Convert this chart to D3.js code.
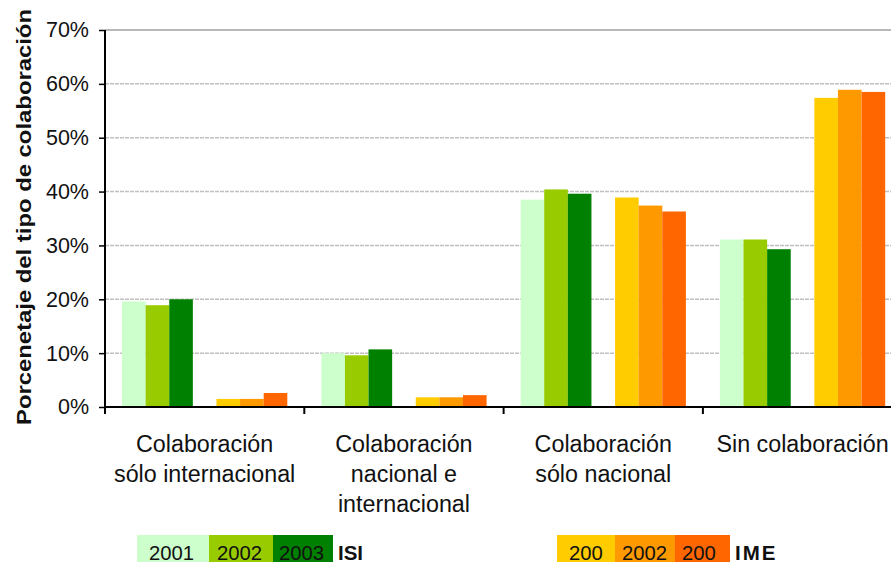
<!DOCTYPE html>
<html>
  <head>
    <meta charset="utf-8">
    <title>Tipo de colaboración ISI / IME</title>
    <script src="https://d3js.org/d3.v7.min.js" charset="utf-8"></script>
    <style>
      body{ margin:0; background:#fff; }
      svg{ display:block; font-family:'Liberation Sans', Arial, sans-serif; }
    </style>
  </head>
  <body>
    <svg></svg>
    <script>

      //begin: data
      var categories = [
        ["Colaboración", "sólo internacional"],
        ["Colaboración", "nacional e", "internacional"],
        ["Colaboración", "sólo nacional"],
        ["Sin colaboración"]
      ];
      var seriesKeys = ["ISI 2001", "ISI 2002", "ISI 2003", "", "IME 2001", "IME 2002", "IME 2003"];
      var isi2001 = [0.196, 0.100, 0.385, 0.311];
      var isi2002 = [0.189, 0.096, 0.404, 0.311];
      var isi2003 = [0.200, 0.107, 0.396, 0.293];
      var ime2001 = [0.015, 0.018, 0.389, 0.574];
      var ime2002 = [0.015, 0.018, 0.374, 0.589];
      var ime2003 = [0.026, 0.022, 0.363, 0.585];
      var yTicks = [0, 0.1, 0.2, 0.3, 0.4, 0.5, 0.6, 0.7];
      var isiLegend = ["2001", "2002", "2003"];
      var imeLegend = ["200", "2002", "200"];
      //end: data

      var seriesValues = {
        "ISI 2001": isi2001, "ISI 2002": isi2002, "ISI 2003": isi2003,
        "IME 2001": ime2001, "IME 2002": ime2002, "IME 2003": ime2003
      };
      var colors = {
        "ISI 2001": "#ccffcc", "ISI 2002": "#99cc00", "ISI 2003": "#008000",
        "IME 2001": "#ffcc00", "IME 2002": "#ff9900", "IME 2003": "#ff6600"
      };

      //begin: layout conf.
      var svgWidth = 891, svgHeight = 562,
          axisX = 105, catStep = 199.3,
          y0 = 407, yTop = 30;
      //end: layout conf.

      var svg = d3.select("svg").attr("width", svgWidth).attr("height", svgHeight);

      var x = d3.scaleBand()
        .domain(d3.range(categories.length))
        .range([axisX, axisX + catStep * categories.length])
        .paddingInner(0).paddingOuter(0);

      var xs = d3.scaleBand()
        .domain(seriesKeys)
        .range([0, x.bandwidth()])
        .paddingInner(0).paddingOuter(0.72);

      var y = d3.scaleLinear().domain([0, 0.7]).range([y0, yTop]);

      // gridlines
      svg.append("g").selectAll("line")
        .data(yTicks.filter(function(d){ return d > 0 && d < 0.7; }))
        .enter().append("line")
          .attr("x1", axisX).attr("x2", svgWidth)
          .attr("y1", function(d){ return y(d); })
          .attr("y2", function(d){ return y(d); })
          .attr("stroke", "#c0c0c0")
          .attr("stroke-width", 1.5)
          .attr("stroke-dasharray", "4,1");

      // top border
      svg.append("line")
        .attr("x1", axisX).attr("x2", svgWidth)
        .attr("y1", y(0.7)).attr("y2", y(0.7))
        .attr("stroke", "#a0a0a0").attr("stroke-width", 1.5);

      // bars
      var keys = seriesKeys.filter(function(k){ return k !== ""; });
      var barData = [];
      categories.forEach(function(c, i){
        keys.forEach(function(k){ barData.push({cat: i, key: k, value: seriesValues[k][i]}); });
      });

      svg.append("g").selectAll("rect")
        .data(barData)
        .enter().append("rect")
          .attr("x", function(d){ return x(d.cat) + xs(d.key); })
          .attr("width", xs.bandwidth())
          .attr("y", function(d){ return y(d.value); })
          .attr("height", function(d){ return y0 - y(d.value); })
          .attr("fill", function(d){ return colors[d.key]; });

      // y axis
      var yAxis = svg.append("g")
        .attr("transform", "translate(" + axisX + ",0)")
        .call(d3.axisLeft(y).tickValues(yTicks).tickFormat(d3.format(".0%")).tickSize(6).tickPadding(10));
      yAxis.select(".domain").attr("stroke", "#000").attr("stroke-width", 2).attr("d", "M0," + yTop + "V" + y0);
      yAxis.selectAll(".tick line").attr("stroke", "#000").attr("stroke-width", 1.5);
      yAxis.selectAll(".tick text")
        .attr("font-size", 21.5).attr("fill", "#111")
        .attr("font-family", "'Liberation Sans', Arial, sans-serif");

      // x axis
      var xTicks = d3.range(categories.length + 1).map(function(i){ return axisX + i * catStep; });
      svg.append("line")
        .attr("x1", axisX).attr("x2", svgWidth)
        .attr("y1", y0).attr("y2", y0)
        .attr("stroke", "#000").attr("stroke-width", 2);
      svg.append("g").selectAll("line")
        .data(xTicks)
        .enter().append("line")
          .attr("x1", function(d){ return d; }).attr("x2", function(d){ return d; })
          .attr("y1", y0).attr("y2", y0 + 7)
          .attr("stroke", "#000").attr("stroke-width", 2);

      // category labels
      svg.append("g").selectAll("text")
        .data(categories)
        .enter().append("text")
          .attr("text-anchor", "middle")
          .attr("font-size", 23.3)
          .attr("fill", "#111")
          .each(function(lines, i){
            var t = d3.select(this);
            lines.forEach(function(l, j){
              t.append("tspan")
                .attr("x", x(i) + x.bandwidth() / 2)
                .attr("y", 452 + j * 30)
                .text(l);
            });
          });

      // y title
      svg.append("text")
        .attr("transform", "translate(31," + 217 + ") rotate(-90)")
        .attr("text-anchor", "middle")
        .attr("font-size", 21)
        .attr("font-weight", "bold")
        .attr("fill", "#111")
        .attr("textLength", 416)
        .attr("lengthAdjust", "spacingAndGlyphs")
        .text("Porcenetaje del tipo de colaboración");

      // legends
      function drawLegend(x0, labels, widths, offsets, series, title, spacing) {
        var g = svg.append("g");
        var cx = x0;
        labels.forEach(function(l, i){
          g.append("rect")
            .attr("x", cx).attr("y", 535)
            .attr("width", widths[i]).attr("height", 30)
            .attr("fill", colors[series[i]]);
          g.append("text")
            .attr("x", cx + offsets[i]).attr("y", 560)
            .attr("font-size", 20.3).attr("fill", "#111")
            .text(l);
          cx += widths[i];
        });
        g.append("text")
          .attr("x", cx + 5).attr("y", 560)
          .attr("font-size", 20.5).attr("font-weight", "bold")
          .attr("letter-spacing", spacing)
          .attr("fill", "#111")
          .text(title);
      }
      drawLegend(137, isiLegend, [72, 64, 60], [12, 8, 6], ["ISI 2001", "ISI 2002", "ISI 2003"], "ISI", 0);
      drawLegend(557, imeLegend, [58, 60, 55], [12, 7, 7], ["IME 2001", "IME 2002", "IME 2003"], "IME", 2);

    </script>
  </body>
</html>
